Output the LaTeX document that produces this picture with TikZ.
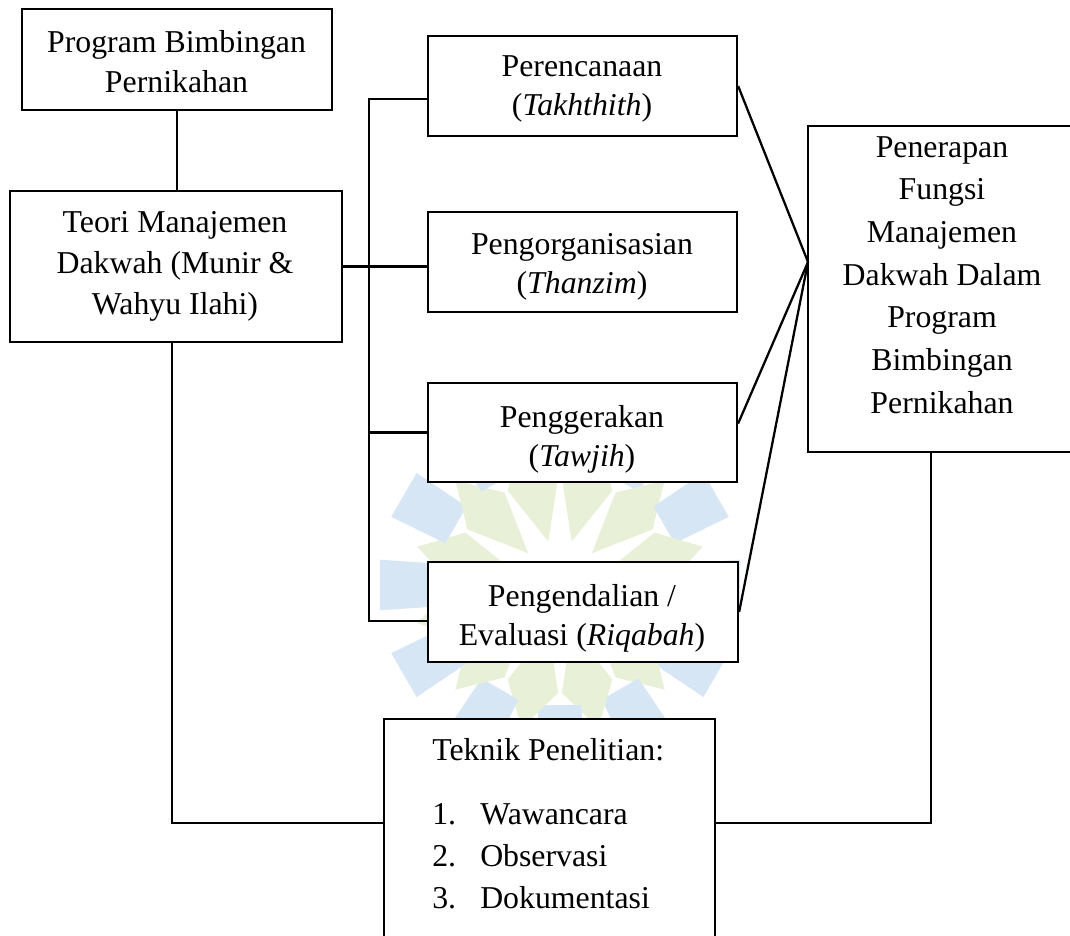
\documentclass[tikz,border=0pt]{standalone}
\usepackage{fontspec}
\setmainfont{Liberation Serif}
\usetikzlibrary{calc}
\definecolor{wmblue}{RGB}{214,230,245}
\definecolor{wmgreen}{RGB}{232,241,216}
\newcommand\boxlines[2]{{\fontsize{23.85pt}{#1}\selectfont\begin{tabular}[t]{@{}c@{}}#2\end{tabular}}}
\tikzset{
  box/.style={draw, fill=white, line width=1.7pt, inner sep=0pt},
  txt/.style={inner sep=0pt, anchor=base, font=\fontsize{23.85pt}{31pt}\selectfont},
  conn/.style={line width=1.7pt},
}
\begin{document}
\begin{tikzpicture}[x=0.75pt, y=-0.75pt]
\useasboundingbox (0,0) rectangle (1070,935);
\clip (0,0) rectangle (1070,935);
% watermark
\foreach \a in {0,30,...,330} {
  \fill[wmblue] ([shift={(560,585)}]\a-10:122) -- ([shift={(560,585)}]\a+10:122)
     -- ([shift={(560,585)}]\a+8:182) -- ([shift={(560,585)}]\a-8:182) -- cycle;
  \fill[wmgreen] ([shift={(560,585)}]\a+15:45) -- ([shift={(560,585)}]\a+1:108)
     -- ([shift={(560,585)}]\a+15:148) -- ([shift={(560,585)}]\a+29:108) -- cycle;
}
% boxes
\node[box, minimum width=232.5pt, minimum height=75.75pt] (A) at (177,59.5) {};
\node[box, minimum width=249pt, minimum height=113.25pt] (B) at (176,266.5) {};
\node[box, minimum width=231.75pt, minimum height=75pt] (P1) at (582.5,86) {};
\node[box, minimum width=231.75pt, minimum height=75pt] (P2) at (582.5,262) {};
\node[box, minimum width=231.75pt, minimum height=74.25pt] (P3) at (582.5,432.5) {};
\node[box, minimum width=232.5pt, minimum height=75pt] (P4) at (583,612) {};
\node[box, minimum width=198pt, minimum height=244.5pt] (R) at (940,289) {};
\node[box, minimum width=248.25pt, minimum height=173.25pt] (T) at (549.5,834.5) {};
% texts
\node[txt] (At) at (176.5,52) {\boxlines{30pt}{Program Bimbingan\\Pernikahan}};
\node[txt] (Bt) at (175,232) {\boxlines{31.1pt}{Teori Manajemen\\Dakwah (Munir \&\\Wahyu Ilahi)}};
\node[txt] (P1t) at (582,76) {\boxlines{29.5pt}{Perencanaan\\(\textit{Takhthith})}};
\node[txt] (P2t) at (582,254) {\boxlines{29.5pt}{Pengorganisasian\\(\textit{Thanzim})}};
\node[txt] (P3t) at (582,427) {\boxlines{29.5pt}{Penggerakan\\(\textit{Tawjih})}};
\node[txt] (P4t) at (582,606) {\boxlines{29.5pt}{Pengendalian /\\Evaluasi (\textit{Riqabah})}};
\node[txt] (Rt) at (942,157) {\boxlines{32pt}{Penerapan\\Fungsi\\Manajemen\\Dakwah Dalam\\Program\\Bimbingan\\Pernikahan}};
\node[txt, anchor=base west] (Th) at (432,760) {Teknik Penelitian:};
\node[txt, anchor=base west] (T1) at (432,824) {\makebox[36pt][l]{1.}Wawancara};
\node[txt, anchor=base west] (T2) at (432,866) {\makebox[36pt][l]{2.}Observasi};
\node[txt, anchor=base west] (T3) at (432,908) {\makebox[36pt][l]{3.}Dokumentasi};
% connectors
\coordinate (bt) at (369,99);
\coordinate (bb) at (369,621);
\coordinate (cv) at (808,262);
\draw[conn] (A.south) -- (A.south |- B.north);
\draw[conn] (B.east) -- (B.east -| P2.west);
\draw[conn] (P1.west |- bt) -- (bt) -- (bb) -- (P4.west |- bb);
\draw[conn] (P3.west) -- (P3.west -| bt);
\draw[conn] (P1.east) -- (cv);
\draw[conn] ($(P2.east)+(0,-23)$) -- ($(P2.east)+(0,-23)$ -| R.west);
\draw[conn] ($(P3.east)+(0,-9)$) -- (cv);
\draw[conn] (P4.east) -- (cv);
\draw[conn] ($(R.south)+(-9,0)$) |- ($(T.east)+(0,-11.5)$);
\draw[conn] ($(B.south)+(-4,0)$) |- ($(T.west)+(0,-11.5)$);
\end{tikzpicture}
\end{document}
